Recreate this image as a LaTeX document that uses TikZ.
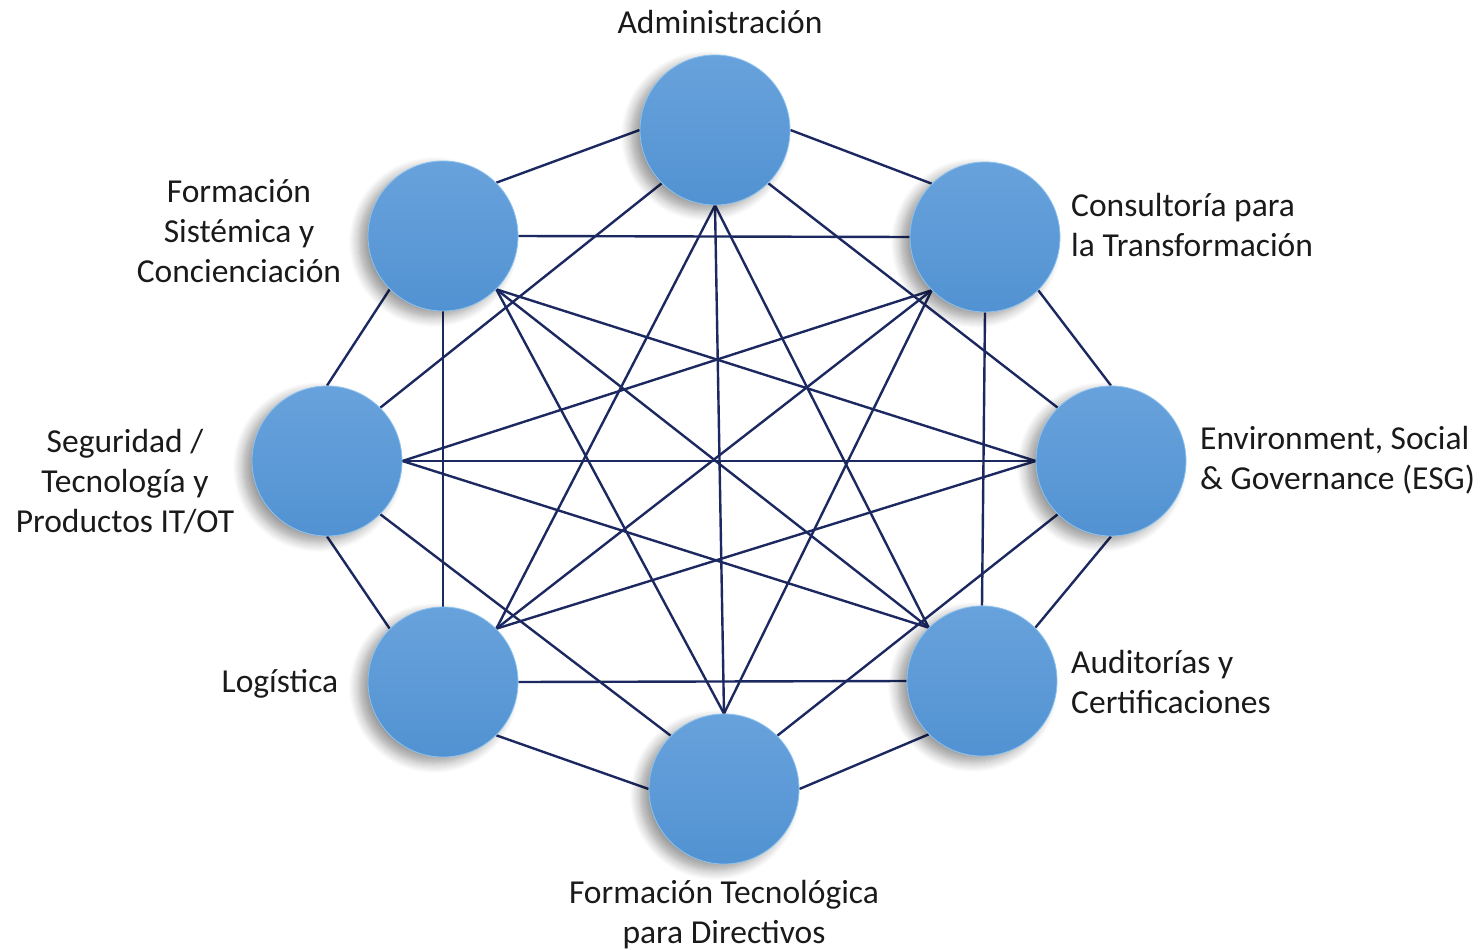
\documentclass[tikz,border=0pt]{standalone}
\usepackage{fontspec}
\setmainfont{Carlito}
\usetikzlibrary{shadows.blur,backgrounds}

\definecolor{hubtop}{RGB}{104,162,220}
\definecolor{hubbot}{RGB}{82,146,210}
\definecolor{hubrim}{RGB}{140,195,238}
\definecolor{linkblue}{RGB}{28,40,96}
\definecolor{txtgray}{RGB}{26,26,26}

\tikzset{
  hub/.style={circle, minimum size=150pt, inner sep=0pt,
    top color=hubtop, bottom color=hubbot, draw=hubrim, line width=0.8pt,
    blur shadow={shadow xshift=-9pt, shadow yshift=-6pt, shadow blur steps=10,
      shadow blur radius=10pt, shadow opacity=40}},
  link/.style={draw=linkblue, line width=2.4pt},
  lbl/.style={text=txtgray, font=\fontsize{33.5pt}{40pt}\selectfont, inner sep=0pt}
}

\begin{document}
\begin{tikzpicture}[x=1pt,y=-1pt]
\useasboundingbox (0,0) rectangle (1483,950);

% ----------------------------------------------------------
% Areas
% ----------------------------------------------------------
\node[hub] (adm)  at (715,130) {};
\node[hub] (con)  at (985,237) {};
\node[hub] (esg)  at (1111,461) {};
\node[hub] (aud)  at (982,681) {};
\node[hub] (ftec) at (724,789) {};
\node[hub] (log)  at (443,682) {};
\node[hub] (seg)  at (327,461) {};
\node[hub] (fsis) at (443,236) {};

% ----------------------------------------------------------
% Links (every area with every other)
% ----------------------------------------------------------
\begin{scope}[on background layer]
\foreach \a/\b in {adm.west/fsis.north east, adm.east/con.north west,
    adm.south/ftec.north, adm.south/log.north east, adm.south/aud.north west,
    adm.south west/seg.north east, adm.south east/esg.north west,
    fsis.east/con.west, fsis.south west/seg.north, fsis.south/log.north,
    fsis.south east/esg.west, fsis.south east/aud.north west,
    fsis.south east/ftec.north,
    log.east/aud.west, log.north west/seg.south, log.north east/con.south west,
    log.north east/esg.west, log.south east/ftec.west,
    aud.south west/ftec.east, aud.north east/esg.south, aud.north/con.south,
    aud.north west/seg.east,
    con.south east/esg.north, con.south west/ftec.north, con.south west/seg.east,
    esg.west/seg.east, esg.south west/ftec.north east,
    seg.south east/ftec.north west} {
    \draw[link] (\a) -- (\b);
}
\end{scope}

% ----------------------------------------------------------
% Labels
% ----------------------------------------------------------
\node[lbl] (tadm) at (720,22) {Administración};
\node[lbl, align=center] (tfsis) at (239,231) {Formación\\Sistémica y\\Concienciación};
\node[lbl, align=left, anchor=west] (tcon) at (1071,225) {Consultoría para\\la Transformación};
\node[lbl, align=left, anchor=west] (tesg) at (1200,460) {Environment, Social\\\& Governance (ESG)};
\node[lbl, align=left, anchor=west] (taud) at (1071,682) {Auditorías y\\Certificaciones};
\node[lbl, align=center] (tftec) at (724,915) {Formación Tecnológica\\para Directivos};
\node[lbl] (tlog) at (280,684) {Logística};
\node[lbl, align=center] (tseg) at (125,482) {Seguridad /\\Tecnología y\\Productos IT/OT};

\end{tikzpicture}
\end{document}
